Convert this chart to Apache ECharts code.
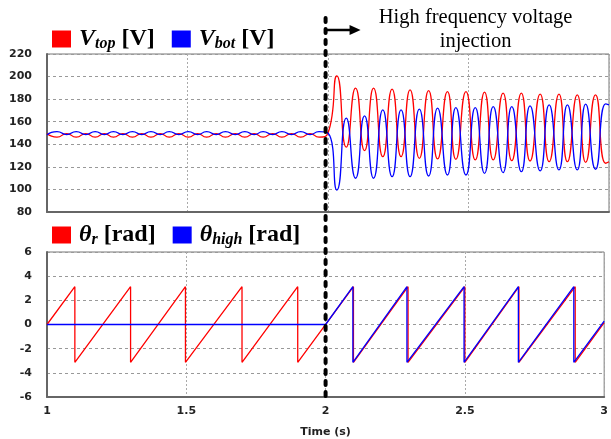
<!DOCTYPE html>
<html>
<head>
<meta charset="utf-8">
<title>Vtop / Vbot / theta</title>
<script src="https://cdn.jsdelivr.net/npm/echarts@6/dist/echarts.min.js"></script>
<style>
    html, body { margin: 0; padding: 0; background: #fff; }
    #main { width: 611px; height: 439px; }
</style>
</head>
<body>
<div id="main"></div>
<script>
// upper plot: turning points of the two voltages (time in s, volts)
var vTime = [1.0, 1.0355, 1.070, 1.104, 1.138, 1.1715, 1.204, 1.2364, 1.270, 1.304, 1.337, 1.370, 1.403, 1.435, 1.469,
    1.503, 1.536, 1.568, 1.602, 1.635, 1.670, 1.704, 1.737, 1.769, 1.803, 1.836, 1.870, 1.903, 1.936, 1.968, 2.0,
    2.0316, 2.065, 2.098, 2.130, 2.162, 2.195, 2.228, 2.260, 2.292, 2.325, 2.358, 2.390, 2.425, 2.455, 2.491, 2.524,
    2.557, 2.588, 2.623, 2.654, 2.688, 2.719, 2.755, 2.787, 2.822, 2.852, 2.887, 2.917, 2.952, 2.988, 3.0];
var vTop = [149.5, 146.3, 149.5, 146.3, 149.5, 146.3, 149.5, 146.3, 149.5, 146.3, 149.5, 146.3, 149.5, 146.3, 149.5,
    146.3, 149.5, 146.3, 149.5, 146.3, 149.5, 146.3, 149.5, 146.3, 149.5, 146.3, 149.5, 146.3, 149.5, 146.3, 150,
    200.6, 137.4, 189.7, 134.4, 189.7, 129.0, 188.8, 129.0, 188.2, 127.6, 187.6, 127.0, 186.7, 126.7, 186.7, 126.1,
    186.2, 126.1, 185.3, 125.5, 185.3, 125.2, 184.4, 124.6, 184.4, 124.6, 183.8, 124.0, 183.8, 123.2, 124.5];
var vBot = [148.5, 151.3, 148.5, 151.3, 148.5, 151.3, 148.5, 151.3, 148.5, 151.3, 148.5, 151.3, 148.5, 151.3, 148.5,
    151.3, 148.5, 151.3, 148.5, 151.3, 148.5, 151.3, 148.5, 151.3, 148.5, 151.3, 148.5, 151.3, 148.5, 151.3, 150,
    99.5, 163.1, 109.9, 165.1, 109.9, 170.5, 111.3, 170.5, 111.3, 171.1, 111.9, 172.0, 112.8, 172.5, 112.8, 172.5,
    114.3, 173.4, 114.9, 173.4, 115.7, 174.0, 116.4, 174.9, 117.3, 174.9, 117.3, 175.5, 117.9, 175.8, 175.0];

// lower plot: corners of the two sawtooth angles (time in s, rad)
var thRTime = [1.0, 1.1, 1.1, 1.3, 1.3, 1.497, 1.497, 1.70, 1.70, 1.90, 1.90, 2.10, 2.10,
    2.296, 2.296, 2.5, 2.5, 2.694, 2.694, 2.896, 2.896, 3.0];
var thR = [0, 3.13, -3.13, 3.13, -3.13, 3.13, -3.13, 3.13, -3.13, 3.13, -3.13, 3.13, -3.13,
    3.13, -3.13, 3.13, -3.13, 3.13, -3.13, 3.13, -3.13, 0.15];
var thHTime = [1.0, 2.0, 2.098, 2.098, 2.292, 2.292, 2.497, 2.497, 2.692, 2.692, 2.891, 2.891, 3.0];
var thH = [0, 0, 3.13, -3.13, 3.13, -3.13, 3.13, -3.13, 3.13, -3.13, 3.13, -3.13, 0.28];

var xTicks = [1, 1.5, 2, 2.5, 3];

function pairs(xs, ys) {
    return xs.map(function (x, i) { return [x, ys[i]]; });
}

var serif = '"Liberation Serif", "Times New Roman", serif';
var sans = '"DejaVu Sans", Tahoma, sans-serif';
var rich = {
    m: { fontFamily: serif, fontSize: 24, fontWeight: 'bold', fontStyle: 'italic', lineHeight: 26, color: '#000', padding: [0, 0, 0, 3] },
    s: { fontFamily: serif, fontSize: 16, fontWeight: 'bold', fontStyle: 'italic', lineHeight: 10, verticalAlign: 'bottom', color: '#000' },
    u: { fontFamily: serif, fontSize: 24, fontWeight: 'bold', lineHeight: 26, color: '#000' }
};
var legendText = {
    'Vtop': '{m|V}{s|top}{u| [V]}',
    'Vbot': '{m|V}{s|bot}{u| [V]}',
    'θr': '{m|θ}{s|r}{u| [rad]}',
    'θhigh': '{m|θ}{s|high}{u| [rad]}'
};

var chart = echarts.init(document.getElementById('main'));

function xAxisOf(gridIndex, showLabels) {
    return {
        type: 'value', gridIndex: gridIndex, min: 1, max: 3, interval: 0.5,
        axisLine: { onZero: false, lineStyle: { color: '#666', width: 2 } },
        axisTick: { show: false },
        axisLabel: {
            show: showLabels, margin: 9, color: '#222', fontFamily: sans, fontWeight: 'bold', fontSize: 11,
            formatter: function (v) { return xTicks.indexOf(v) >= 0 ? String(v) : ''; }
        },
        splitLine: { show: true, lineStyle: { color: '#aaa', type: [2, 2], width: 1 } },
        name: showLabels ? 'Time (s)' : '',
        nameLocation: 'middle', nameGap: 30,
        nameTextStyle: { color: '#222', fontFamily: sans, fontWeight: 'bold', fontSize: 11 }
    };
}

function yAxisOf(gridIndex, min, max, step) {
    return {
        type: 'value', gridIndex: gridIndex, min: min, max: max, interval: step,
        axisLine: { show: true, lineStyle: { color: '#666', width: 2 } },
        axisTick: { show: false },
        axisLabel: { margin: 15, color: '#222', fontFamily: sans, fontWeight: 'bold', fontSize: 11 },
        splitLine: { show: true, lineStyle: { color: '#999', type: [3, 3], width: 1 } }
    };
}

function legendOf(top, names) {
    return {
        left: 52, top: top, padding: 0, icon: 'rect', itemWidth: 19, itemHeight: 17, itemGap: 17,
        data: names,
        formatter: function (n) { return legendText[n]; },
        textStyle: { rich: rich }
    };
}

var option = {
    animation: false,
    backgroundColor: '#fff',
    grid: [
        { left: 47, right: 2, top: 54, height: 158, show: true, borderColor: '#777', borderWidth: 1 },
        { left: 47, right: 2, top: 252, height: 146, show: true, borderColor: '#777', borderWidth: 1 }
    ],
    legend: [legendOf(27, ['Vtop', 'Vbot']), legendOf(223, ['θr', 'θhigh'])],
    xAxis: [xAxisOf(0, false), xAxisOf(1, true)],
    yAxis: [yAxisOf(0, 80, 220, 20), yAxisOf(1, -6, 6, 2)],
    series: [
        { name: 'Vtop', type: 'line', xAxisIndex: 0, yAxisIndex: 0, data: pairs(vTime, vTop), smooth: 0.6,
          showSymbol: false, color: '#ff0000', lineStyle: { width: 1.3 } },
        { name: 'Vbot', type: 'line', xAxisIndex: 0, yAxisIndex: 0, data: pairs(vTime, vBot), smooth: 0.6,
          showSymbol: false, color: '#0000ff', lineStyle: { width: 1.3 } },
        { name: 'θr', type: 'line', xAxisIndex: 1, yAxisIndex: 1, data: pairs(thRTime, thR),
          showSymbol: false, color: '#ff0000', lineStyle: { width: 1.3 } },
        { name: 'θhigh', type: 'line', xAxisIndex: 1, yAxisIndex: 1, data: pairs(thHTime, thH),
          showSymbol: false, color: '#0000ff', lineStyle: { width: 1.3 } }
    ]
};
chart.setOption(option);

// injection marker at t = 2 s, placed through the axis scale
var x0 = chart.convertToPixel({ xAxisIndex: 1 }, 2);
chart.setOption({
    graphic: [
        { type: 'line', z: 100, shape: { x1: x0, y1: 18, x2: x0, y2: 397 },
          style: { stroke: '#000', lineWidth: 4, lineDash: [4, 7], lineCap: 'round' } },
        { type: 'line', z: 100, shape: { x1: x0, y1: 30, x2: x0 + 27, y2: 30 },
          style: { stroke: '#000', lineWidth: 2.5 } },
        { type: 'polygon', z: 100, shape: { points: [[x0 + 24, 25], [x0 + 35, 30], [x0 + 24, 35]] },
          style: { fill: '#000' } },
        { type: 'text', z: 100, x: x0 + 150, y: 6,
          style: { text: 'High frequency voltage\ninjection', align: 'center', verticalAlign: 'top',
                   font: '20.5px ' + serif, lineHeight: 24, fill: '#000' } }
    ]
});
</script>
</body>
</html>
